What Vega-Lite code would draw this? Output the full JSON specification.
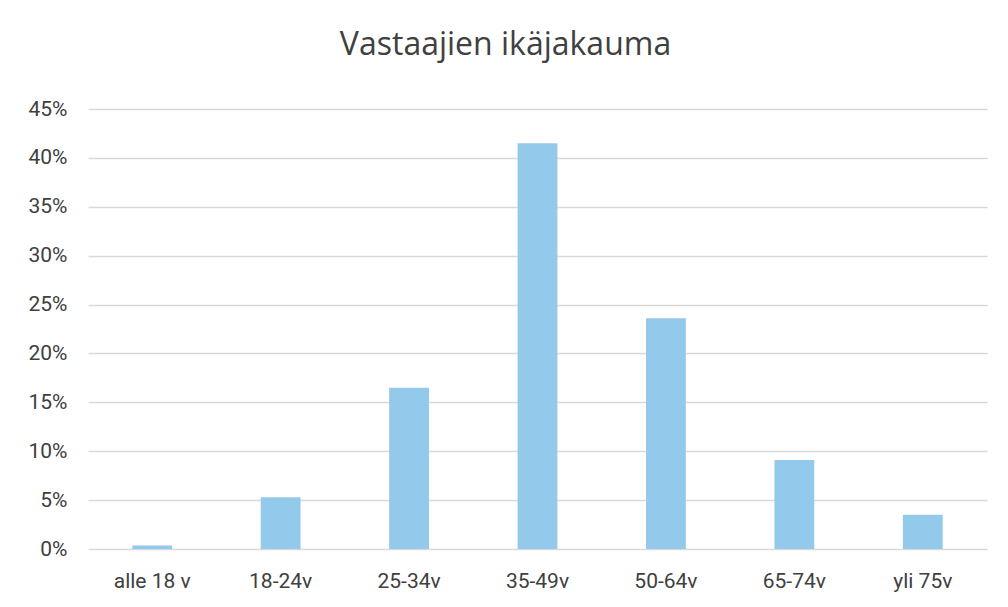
{
  "$schema": "https://vega.github.io/schema/vega-lite/v6.json",
  "width": 899,
  "height": 440,
  "autosize": "none",
  "padding": {"left": 88, "top": 109, "right": 21, "bottom": 58},
  "background": "white",
  "title": {
    "text": "Vastaajien ikäjakauma",
    "font": "Open Sans",
    "fontSize": 32,
    "fontWeight": "normal",
    "color": "#404040",
    "anchor": "middle",
    "dx": -32,
    "offset": 36
  },
  "data": {
    "values": [
      {"ika": "alle 18 v", "osuus": 0.0035},
      {"ika": "18-24v", "osuus": 0.053},
      {"ika": "25-34v", "osuus": 0.165},
      {"ika": "35-49v", "osuus": 0.415},
      {"ika": "50-64v", "osuus": 0.236},
      {"ika": "65-74v", "osuus": 0.091},
      {"ika": "yli 75v", "osuus": 0.035}
    ]
  },
  "mark": {"type": "bar", "color": "#93C9EA"},
  "encoding": {
    "x": {
      "field": "ika",
      "type": "nominal",
      "sort": null,
      "title": null,
      "scale": {"paddingInner": 0.69, "paddingOuter": 0.345},
      "axis": {
        "labelAngle": 0,
        "domain": false,
        "ticks": false,
        "labelFont": "Roboto",
        "labelFontSize": 21,
        "labelColor": "#404040",
        "labelPadding": 21
      }
    },
    "y": {
      "field": "osuus",
      "type": "quantitative",
      "title": null,
      "scale": {"domain": [0, 0.45], "nice": false},
      "axis": {
        "format": ".0%",
        "values": [0, 0.05, 0.1, 0.15, 0.2, 0.25, 0.3, 0.35, 0.4, 0.45],
        "domain": false,
        "ticks": false,
        "grid": true,
        "gridColor": "#D9D9D9",
        "gridWidth": 1.5,
        "labelFont": "Roboto",
        "labelFontSize": 21,
        "labelColor": "#404040",
        "labelPadding": 21
      }
    }
  },
  "config": {"view": {"stroke": null}}
}
